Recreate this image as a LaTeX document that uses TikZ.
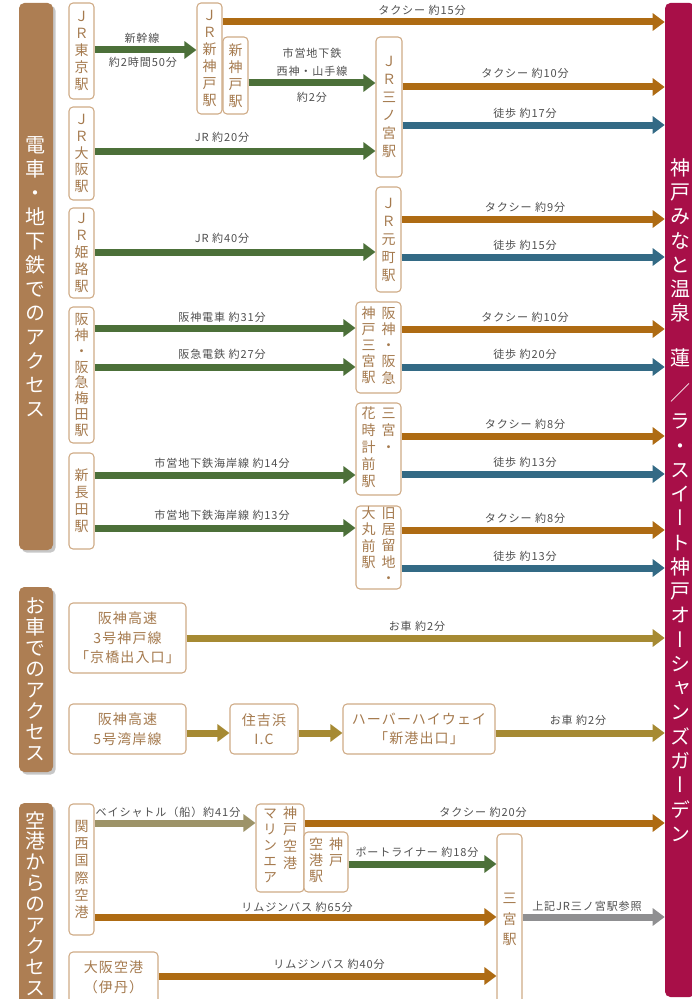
\documentclass[tikz,border=0pt]{standalone}
\usepackage{fontspec}
\usepackage{tikz}
\usetikzlibrary{arrows.meta,shadows}
\newfontfamily\jpfont{Noto Sans CJK JP}
\newfontfamily\jpwide[LetterSpace=8]{Noto Sans CJK JP}
\newfontfamily\tatefont[RawFeature=+vert]{Noto Sans CJK JP}
\definecolor{barbrown}{HTML}{AD7E53}
\definecolor{goalred}{HTML}{A80F48}
\definecolor{boxline}{HTML}{CFAB86}
\definecolor{boxtext}{HTML}{A57A4E}
\definecolor{taxicol}{HTML}{AE6B13}
\definecolor{walkcol}{HTML}{336A85}
\definecolor{traincol}{HTML}{4C7039}
\definecolor{carcol}{HTML}{A68A33}
\definecolor{shipcol}{HTML}{9D9368}
\definecolor{refcol}{HTML}{8F8F91}
\definecolor{labeltext}{HTML}{4F4F4F}
\newcommand{\px}{0.75pt}
\newcommand{\arrw}{5.25pt}
\newcommand{\lblfont}{\jpwide\fontsize{8.3}{13.5}\selectfont}
\newcommand{\boxfont}{\tatefont\fontsize{10.5}{12.7}\selectfont}
\newcommand{\carfont}{\jpwide\fontsize{10.5}{14.6}\selectfont}
\newcommand{\tcol}[1]{\begin{tabular}[t]{@{}c@{}}#1\end{tabular}}

\begin{document}
\begin{tikzpicture}[x=0.75pt, y=-0.75pt]
                %\draw[help lines] (0,0) grid (692,999);
                \tikzset{station/.style = {draw=boxline, line width=0.8pt, fill=white, rounded corners=3pt,
                                           text=boxtext, inner sep=0pt, align=center, font=\boxfont}}
                \tikzset{hbox/.style = {station, font=\carfont}}
                \tikzset{section/.style = {fill=barbrown, rounded corners=4pt, text=white, inner sep=0pt, align=center,
                                           drop shadow={shadow xshift=2pt, shadow yshift=-2pt, fill=black!22, opacity=1}}}
                \tikzset{route/.style = {line width=\arrw, -{Triangle[length=9pt, width=12.75pt]}}}
                \tikzset{taxi/.style = {route, draw=taxicol}, walk/.style = {route, draw=walkcol},
                         train/.style = {route, draw=traincol}, car/.style = {route, draw=carcol},
                         ship/.style = {route, draw=shipcol}, refer/.style = {route, draw=refcol}}
                \tikzset{lbl/.style = {font=\lblfont, text=labeltext, inner sep=0pt, align=center}}
                \useasboundingbox (0,0) rectangle (692,999);

                % goal and sections
                \node[fill=goalred, rounded corners=4pt, minimum width=30*\px, minimum height=994*\px, inner sep=0pt,
                      text=white, align=center, font=\tatefont\fontsize{15}{18.2}\selectfont] (goal) at (680,500)
                      {神\\戸\\み\\な\\と\\温\\泉\\[15.5pt]蓮\\[8pt]／\\[2.8pt]ラ\\・\\ス\\イ\\ー\\ト\\神\\戸\\オ\\ー\\シ\\ャ\\ン\\ズ\\ガ\\ー\\デ\\ン};
                \node[section, minimum width=34*\px, minimum height=547*\px, font=\tatefont\fontsize{15}{18}\selectfont]
                      (railbar) at (36,276.5) {電\\車\\・\\地\\下\\鉄\\で\\の\\ア\\ク\\セ\\ス};
                \node[section, minimum width=34*\px, minimum height=185*\px, font=\tatefont\fontsize{15}{15.8}\selectfont]
                      (carbar) at (36,679.5) {お\\車\\で\\の\\ア\\ク\\セ\\ス};
                \node[section, minimum width=34*\px, minimum height=201*\px, font=\tatefont\fontsize{15}{15.7}\selectfont]
                      (airbar) at (36,903.5) {空\\港\\か\\ら\\の\\ア\\ク\\セ\\ス};

                % rail stations
                \node[station, minimum width=25*\px, minimum height=96*\px] (tokyo) at (81.5,51) {Ｊ\\Ｒ\\東\\京\\駅};
                \node[station, minimum width=25*\px, minimum height=93*\px] (osaka) at (81.5,153.5) {Ｊ\\Ｒ\\大\\阪\\駅};
                \node[station, minimum width=25*\px, minimum height=90*\px] (himeji) at (81.5,253) {Ｊ\\Ｒ\\姫\\路\\駅};
                \node[station, minimum width=25*\px, minimum height=136*\px, font=\tatefont\fontsize{10.5}{11.9}\selectfont]
                      (umeda) at (81.5,375) {阪\\神\\・\\阪\\急\\梅\\田\\駅};
                \node[station, minimum width=25*\px, minimum height=96*\px] (nagata) at (81.5,501) {新\\長\\田\\駅};
                \node[station, minimum width=25*\px, minimum height=111*\px] (jrshinkobe) at (209.5,58.5) {Ｊ\\Ｒ\\新\\神\\戸\\駅};
                \node[station, minimum width=25*\px, minimum height=77*\px] (shinkobe) at (235.5,75.5) {新\\神\\戸\\駅};
                \node[station, minimum width=26*\px, minimum height=140*\px, font=\tatefont\fontsize{10.5}{13.6}\selectfont]
                      (jrsannomiya) at (389,107) {Ｊ\\Ｒ\\三\\ノ\\宮\\駅};
                \node[station, minimum width=25*\px, minimum height=105*\px, font=\tatefont\fontsize{10.5}{13.5}\selectfont]
                      (motomachi) at (388.5,239.5) {Ｊ\\Ｒ\\元\\町\\駅};
                \node[station, minimum width=45*\px, minimum height=91*\px, font=\tatefont\fontsize{10.5}{12}\selectfont]
                      (hansan) at (378.5,347.5) {\tcol{神\\戸\\三\\宮\\駅}\hspace{4.5pt}\tcol{阪\\神\\・\\阪\\急}};
                \node[station, minimum width=45*\px, minimum height=92*\px] (hanadokei) at (378.5,449)
                      {\tcol{花\\時\\計\\前\\駅}\hspace{4.5pt}\tcol{三\\宮\\・\\\phantom{前}\\\phantom{駅}}};
                \node[station, minimum width=45*\px, minimum height=83*\px, font=\tatefont\fontsize{10.5}{12}\selectfont]
                      (kyoryuchi) at (378.5,547.5) {\tcol{大\\丸\\前\\駅\\\phantom{・}}\hspace{4.5pt}\tcol{旧\\居\\留\\地\\・}};

                % car
                \node[hbox, minimum width=117*\px, minimum height=70*\px] (kobesen) at (127.5,638) {阪神高速\\3号神戸線\\「京橋出入口」};
                \node[hbox, minimum width=117*\px, minimum height=50*\px] (wangan) at (127.5,729) {阪神高速\\5号湾岸線};
                \node[hbox, minimum width=68*\px, minimum height=50*\px] (sumiyoshi) at (264,729) {住吉浜\\I.C};
                \node[hbox, minimum width=152*\px, minimum height=50*\px] (harbor) at (419,729) {ハーバーハイウェイ\\「新港出口」};

                % airport
                \node[station, minimum width=25*\px, minimum height=131*\px, font=\tatefont\fontsize{10.5}{13}\selectfont]
                      (kansai) at (81.5,869.5) {関\\西\\国\\際\\空\\港};
                \node[station, minimum width=48*\px, minimum height=88*\px, font=\tatefont\fontsize{10.5}{12}\selectfont]
                      (marine) at (280,848) {\tcol{マ\\リ\\ン\\エ\\ア}\hspace{4.5pt}\tcol{神\\戸\\空\\港\\\phantom{ア}}};
                \node[station, minimum width=44*\px, minimum height=60*\px, font=\tatefont\fontsize{10.5}{12}\selectfont]
                      (kobeair) at (326,862) {\tcol{空\\港\\駅}\hspace{4.5pt}\tcol{神\\戸\\\phantom{駅}}};
                \node[station, minimum width=25*\px, minimum height=171*\px, font=\tatefont\fontsize{10.5}{15.5}\selectfont]
                      (sannomiya) at (509.5,919.5) {三\\宮\\駅};
                \node[hbox, minimum width=89*\px, minimum height=51*\px] (itami) at (113.5,977.5) {大阪空港\\（伊丹）};

                % rail routes
                \draw[train] (tokyo.east |- 0,50) -- (jrshinkobe.west |- 0,50);
                \draw[taxi] (jrshinkobe.east |- 0,22) -- (goal.west |- 0,22);
                \draw[train] (shinkobe.east |- 0,83) -- (jrsannomiya.west |- 0,83);
                \draw[taxi] (jrsannomiya.east |- 0,87) -- (goal.west |- 0,87);
                \draw[walk] (jrsannomiya.east |- 0,125) -- (goal.west |- 0,125);
                \draw[train] (osaka.east |- 0,151) -- (jrsannomiya.west |- 0,151);
                \draw[train] (himeji.east |- 0,252) -- (motomachi.west |- 0,252);
                \draw[taxi] (motomachi.east |- 0,219) -- (goal.west |- 0,219);
                \draw[walk] (motomachi.east |- 0,257) -- (goal.west |- 0,257);
                \draw[train] (umeda.east |- 0,328) -- (hansan.west |- 0,328);
                \draw[train] (umeda.east |- 0,367) -- (hansan.west |- 0,367);
                \draw[taxi] (hansan.east |- 0,329) -- (goal.west |- 0,329);
                \draw[walk] (hansan.east |- 0,367) -- (goal.west |- 0,367);
                \draw[train] (nagata.east |- 0,475) -- (hanadokei.west |- 0,475);
                \draw[train] (nagata.east |- 0,528) -- (kyoryuchi.west |- 0,528);
                \draw[taxi] (hanadokei.east |- 0,436) -- (goal.west |- 0,436);
                \draw[walk] (hanadokei.east |- 0,474) -- (goal.west |- 0,474);
                \draw[taxi] (kyoryuchi.east |- 0,530) -- (goal.west |- 0,530);
                \draw[walk] (kyoryuchi.east |- 0,568) -- (goal.west |- 0,568);

                % car routes
                \draw[car] (kobesen.east |- 0,638) -- (goal.west |- 0,638);
                \draw[car] (wangan.east |- 0,733) -- (sumiyoshi.west |- 0,733);
                \draw[car] (sumiyoshi.east |- 0,733) -- (harbor.west |- 0,733);
                \draw[car] (harbor.east |- 0,733) -- (goal.west |- 0,733);

                % airport routes
                \draw[ship] (kansai.east |- 0,823) -- (marine.west |- 0,823);
                \draw[taxi] (marine.east |- 0,823) -- (goal.west |- 0,823);
                \draw[train] (kobeair.east |- 0,864) -- (sannomiya.west |- 0,864);
                \draw[taxi] (kansai.east |- 0,917) -- (sannomiya.west |- 0,917);
                \draw[taxi] (itami.east |- 0,976) -- (sannomiya.west |- 0,976);
                \draw[refer] (sannomiya.east |- 0,917) -- (goal.west |- 0,917);

                % labels
                \node[lbl] (l1) at (422,10) {タクシー 約15分};
                \node[lbl] (l2) at (142,38) {新幹線};
                \node[lbl] (l3) at (143,62) {約2時間50分};
                \node[lbl] (l4) at (312,62) {市営地下鉄\\西神・山手線};
                \node[lbl] (l5) at (312,97) {約2分};
                \node[lbl] (l6) at (525,73) {タクシー 約10分};
                \node[lbl] (l7) at (525,113) {徒歩 約17分};
                \node[lbl] (l8) at (222,137) {JR 約20分};
                \node[lbl] (l9) at (222,238) {JR 約40分};
                \node[lbl] (l10) at (525,207) {タクシー 約9分};
                \node[lbl] (l11) at (525,245) {徒歩 約15分};
                \node[lbl] (l12) at (222,317) {阪神電車 約31分};
                \node[lbl] (l13) at (222,354) {阪急電鉄 約27分};
                \node[lbl] (l14) at (525,317) {タクシー 約10分};
                \node[lbl] (l15) at (525,354) {徒歩 約20分};
                \node[lbl] (l16) at (222,463) {市営地下鉄海岸線 約14分};
                \node[lbl] (l17) at (222,515) {市営地下鉄海岸線 約13分};
                \node[lbl] (l18) at (525,424) {タクシー 約8分};
                \node[lbl] (l19) at (525,462) {徒歩 約13分};
                \node[lbl] (l20) at (525,518) {タクシー 約8分};
                \node[lbl] (l21) at (525,556) {徒歩 約13分};
                \node[lbl] (l22) at (417,626) {お車 約2分};
                \node[lbl] (l23) at (578,720) {お車 約2分};
                \node[lbl] (l24) at (168,812) {ベイシャトル（船）約41分};
                \node[lbl] (l25) at (483,812) {タクシー 約20分};
                \node[lbl] (l26) at (417,852) {ポートライナー 約18分};
                \node[lbl] (l27) at (297,907) {リムジンバス 約65分};
                \node[lbl] (l28) at (329,964) {リムジンバス 約40分};
                \node[lbl] (l29) at (587,906) {上記JR三ノ宮駅参照};
\end{tikzpicture}
\end{document}
